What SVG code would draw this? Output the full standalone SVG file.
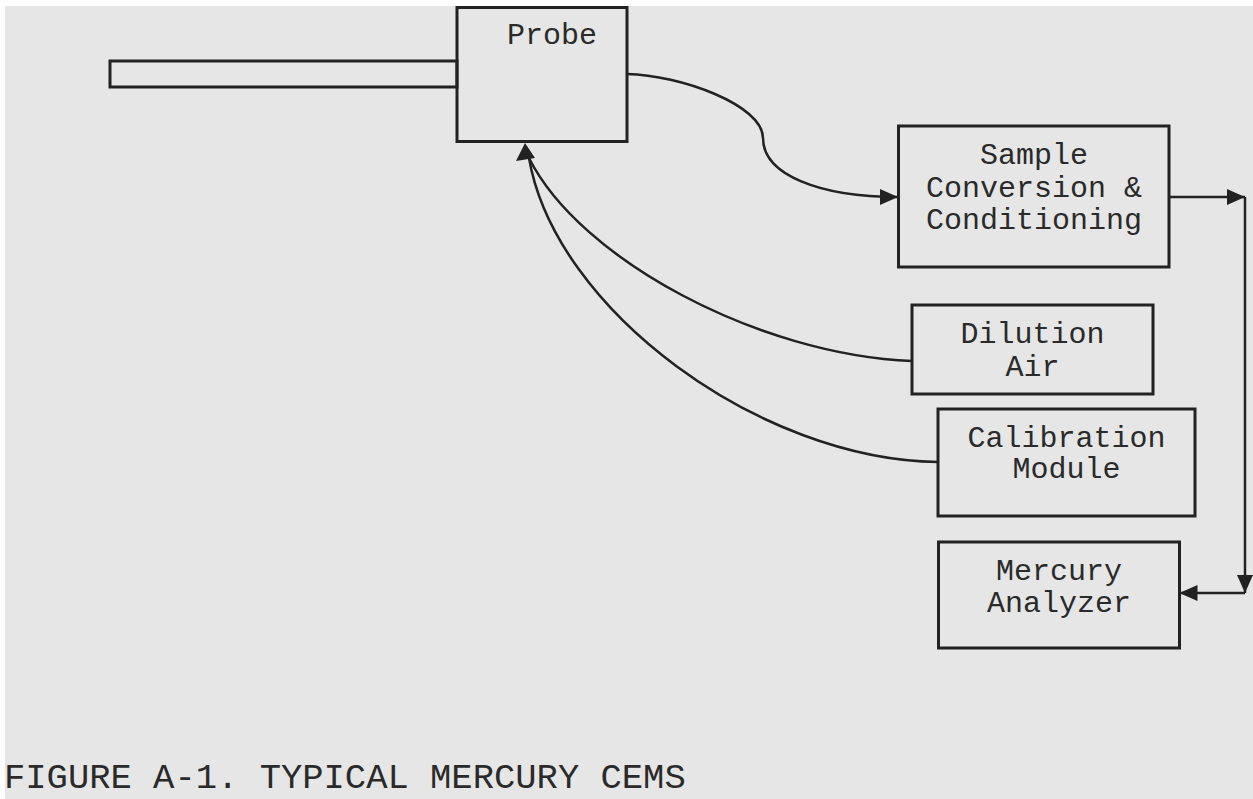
<svg xmlns="http://www.w3.org/2000/svg" width="1253" height="799" viewBox="0 0 1253 799">
  <style>
    .box { fill: none; stroke: #222; stroke-width: 3; }
    .lbl { font-family: "Liberation Mono", "Courier New", monospace; font-size: 30px; fill: #2a2a2a; text-anchor: middle; }
    .cap { font-family: "Liberation Mono", "Courier New", monospace; font-size: 35.5px; fill: #2a2a2a; }
    .wire { fill: none; stroke: #222; stroke-width: 2.5; }
  </style>
  <defs>
    <marker id="arrow" viewBox="0 0 18 16" refX="18" refY="8" markerWidth="18" markerHeight="16" markerUnits="userSpaceOnUse" orient="auto">
      <path d="M0,0 L18,8 L0,16 z" fill="#222"/>
    </marker>
  </defs>

  <rect x="0" y="0" width="1253" height="799" fill="#ffffff"/>
  <rect x="5" y="6" width="1248" height="793" fill="#e6e6e6"/>

  <g id="probe-tube">
    <rect class="box" x="110" y="61" width="347" height="26"/>
  </g>
  <g id="probe">
    <rect class="box" x="457" y="7.5" width="170" height="134"/>
    <text class="lbl" x="552" y="44">Probe</text>
  </g>
  <g id="sample-conversion">
    <rect class="box" x="898.5" y="126" width="270.5" height="141"/>
    <text class="lbl" x="1034" y="164">Sample</text>
    <text class="lbl" x="1034" y="197">Conversion &amp;</text>
    <text class="lbl" x="1034" y="229">Conditioning</text>
  </g>
  <g id="dilution-air">
    <rect class="box" x="912" y="305" width="241" height="89"/>
    <text class="lbl" x="1032.5" y="343">Dilution</text>
    <text class="lbl" x="1032.5" y="376">Air</text>
  </g>
  <g id="calibration-module">
    <rect class="box" x="938" y="409" width="257" height="107"/>
    <text class="lbl" x="1066.5" y="447">Calibration</text>
    <text class="lbl" x="1066.5" y="478">Module</text>
  </g>
  <g id="mercury-analyzer">
    <rect class="box" x="938.5" y="542" width="241" height="106"/>
    <text class="lbl" x="1059" y="580">Mercury</text>
    <text class="lbl" x="1059" y="612">Analyzer</text>
  </g>

  <g id="connectors">
    <path class="wire" d="M627,74 C680,75 763,105 763,138 C763,175 820,197 898,197" marker-end="url(#arrow)"/>
    <path class="wire" d="M1169,197 L1245,197" marker-end="url(#arrow)"/>
    <path class="wire" d="M1245,197 L1245,593" marker-end="url(#arrow)"/>
    <path class="wire" d="M1245,593 L1179.5,593" marker-end="url(#arrow)"/>
    <path class="wire" d="M912,361 C760,355 580,260 529,158"/>
    <path class="wire" d="M938,462 C760,460 555,310 529,158"/>
    <polygon points="525,143 516,161 535,158" fill="#222"/>
  </g>

  <text class="cap" x="4" y="788">FIGURE A-1. TYPICAL MERCURY CEMS</text>
</svg>
